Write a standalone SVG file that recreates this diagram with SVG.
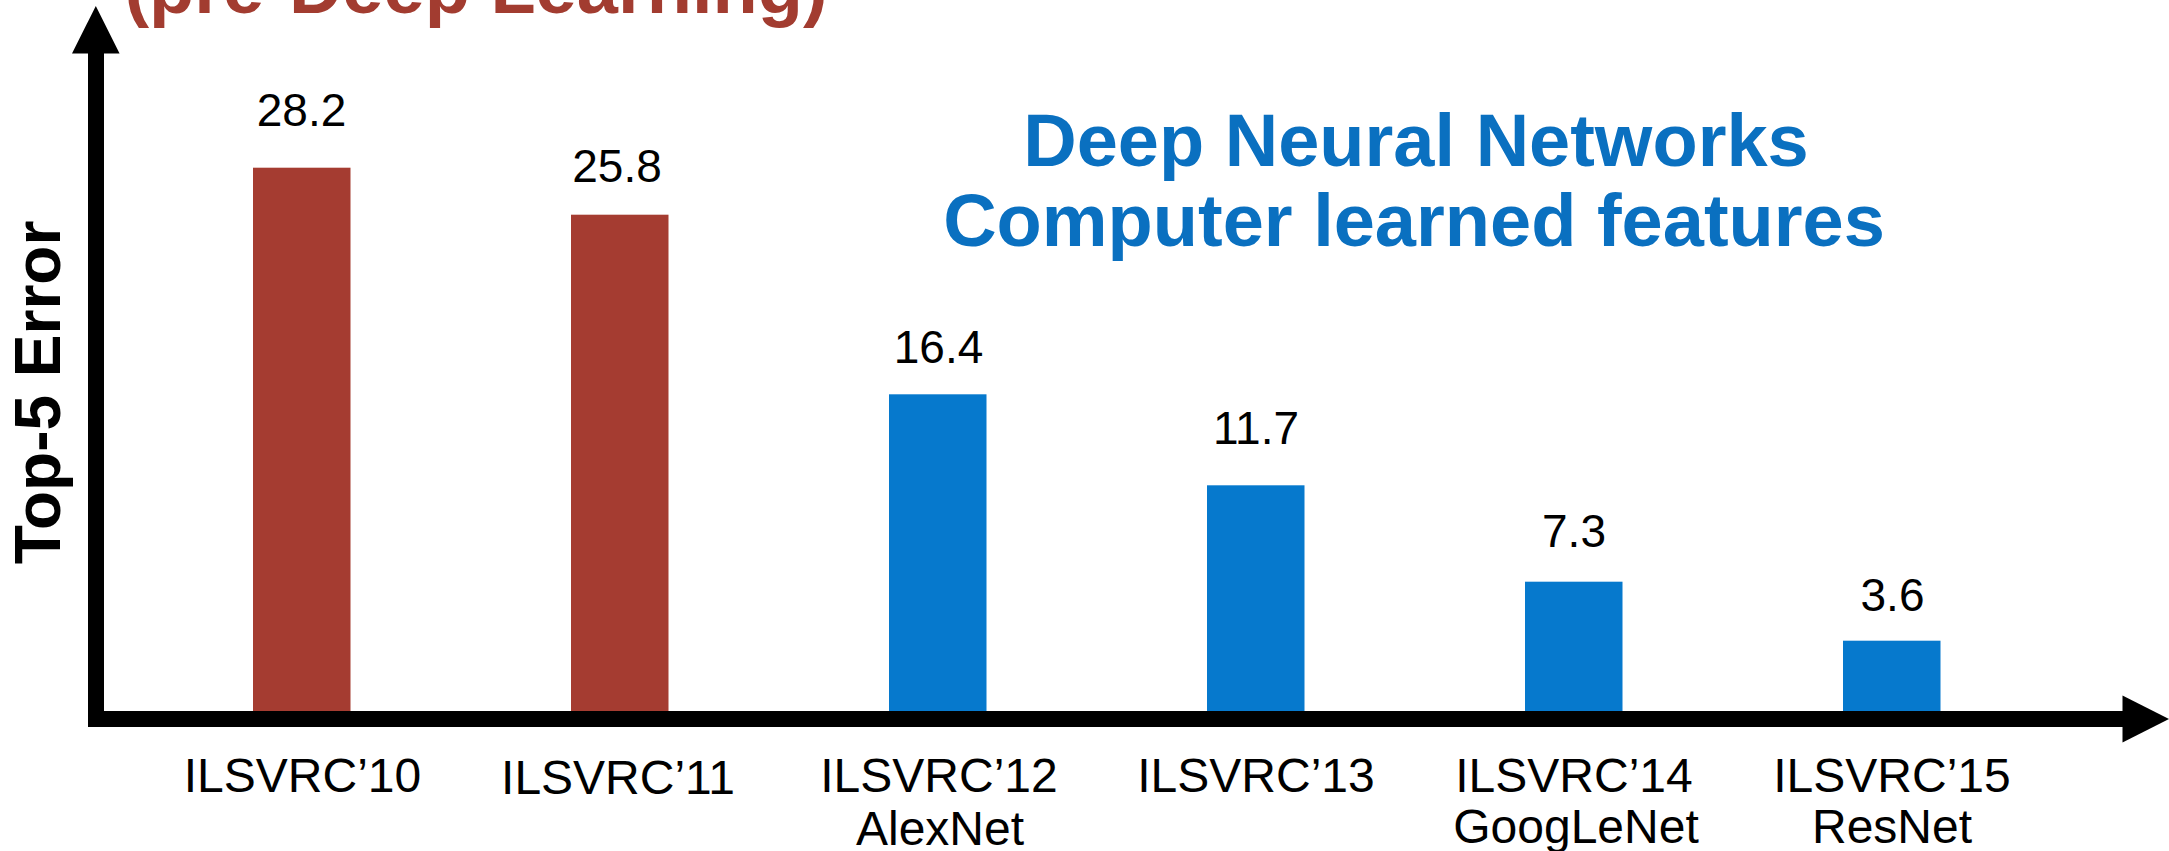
<svg xmlns="http://www.w3.org/2000/svg" width="2169" height="851" viewBox="0 0 2169 851">
  <style>
    .val { font-family: "Liberation Sans", Arial, sans-serif; font-size: 46px; fill: #000; text-anchor: middle; }
    .cat { font-family: "Liberation Sans", Arial, sans-serif; font-size: 48px; fill: #000; text-anchor: middle; }
    .head { font-family: "Liberation Sans", Arial, sans-serif; font-size: 74px; font-weight: bold; text-anchor: middle; }
    .axislabel { font-family: "Liberation Sans", Arial, sans-serif; font-size: 64px; font-weight: bold; fill: #000; text-anchor: middle; }
    .red { fill: #A53C31; }
    .blue { fill: #0679CD; }
    .bluetext { fill: #0A70C0; }
    .axis { fill: #000; }
  </style>
  <rect width="2169" height="851" fill="#fff"/>

  <!-- headings -->
  <g id="heading-pre">
    <text class="head" x="476" y="13" fill="#A23C30">(pre-Deep Learning)</text>
  </g>
  <g id="heading-deep">
    <text class="head bluetext" x="1416" y="166">Deep Neural Networks</text>
    <text class="head bluetext" x="1414" y="246">Computer learned features</text>
  </g>

  <!-- y axis title -->
  <g id="y-title">
    <text class="axislabel" transform="translate(60,392.5) rotate(-90)">Top-5 Error</text>
  </g>

  <!-- axes -->
  <g id="axes">
    <rect class="axis" x="88" y="50" width="16" height="677"/>
    <polygon class="axis" points="95.8,6 72,53.5 119.6,53.5"/>
    <rect class="axis" x="88" y="711" width="2037" height="16"/>
    <polygon class="axis" points="2169,719 2122.5,695.5 2122.5,742.5"/>
  </g>

  <!-- bars -->
  <g id="bar-2010">
    <rect class="red" x="253" y="167.7" width="97.5" height="543.3"/>
    <text class="val" x="301.5" y="126">28.2</text>
    <text class="cat" x="302.5" y="792">ILSVRC’10</text>
  </g>
  <g id="bar-2011">
    <rect class="red" x="571" y="214.7" width="97.5" height="496.3"/>
    <text class="val" x="617" y="181.7">25.8</text>
    <text class="cat" x="618" y="794">ILSVRC’11</text>
  </g>
  <g id="bar-2012">
    <rect class="blue" x="889" y="394.3" width="97.5" height="316.7"/>
    <text class="val" x="938.5" y="362.7">16.4</text>
    <text class="cat" x="939" y="792">ILSVRC’12</text>
    <text class="cat" x="940" y="845">AlexNet</text>
  </g>
  <g id="bar-2013">
    <rect class="blue" x="1207" y="485.3" width="97.5" height="225.7"/>
    <text class="val" x="1256" y="444.3">11.7</text>
    <text class="cat" x="1256" y="792">ILSVRC’13</text>
  </g>
  <g id="bar-2014">
    <rect class="blue" x="1525" y="581.7" width="97.5" height="129.3"/>
    <text class="val" x="1574" y="546.7">7.3</text>
    <text class="cat" x="1574" y="792">ILSVRC’14</text>
    <text class="cat" x="1576" y="843">GoogLeNet</text>
  </g>
  <g id="bar-2015">
    <rect class="blue" x="1843" y="640.7" width="97.5" height="70.3"/>
    <text class="val" x="1892.5" y="611">3.6</text>
    <text class="cat" x="1892" y="792">ILSVRC’15</text>
    <text class="cat" x="1892" y="843">ResNet</text>
  </g>
</svg>
